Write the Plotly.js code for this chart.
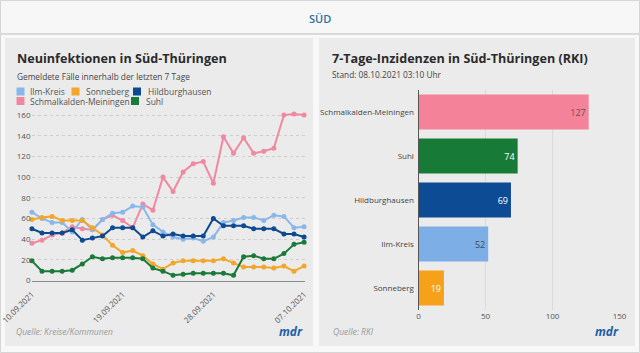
<!DOCTYPE html>
<html>
<head>
<meta charset="utf-8">
<script src="https://cdn.plot.ly/plotly-3.0.1.min.js"></script>
<style>
html,body{margin:0;padding:0;background:#ffffff;}
#chart{width:640px;height:353px;}
</style>
</head>
<body>
<div id="chart"></div>
<script>
// ---------- DATA ----------
const dates = ['2021-09-10','2021-09-11','2021-09-12','2021-09-13','2021-09-14','2021-09-15','2021-09-16',
  '2021-09-17','2021-09-18','2021-09-19','2021-09-20','2021-09-21','2021-09-22','2021-09-23',
  '2021-09-24','2021-09-25','2021-09-26','2021-09-27','2021-09-28','2021-09-29','2021-09-30',
  '2021-10-01','2021-10-02','2021-10-03','2021-10-04','2021-10-05','2021-10-06','2021-10-07'];
const xTickVals = ['2021-09-10','2021-09-19','2021-09-28','2021-10-07'];
const xTickText = ['10.09.2021','19.09.2021','28.09.2021','07.10.2021'];

const seriesNames = ['Ilm-Kreis','Sonneberg','Hildburghausen','Schmalkalden-Meiningen','Suhl'];
const ilmKreis       = [66,60,56,56,47,59,49,59,65,66,72,71,54,47,42,40,41,38,42,56,58,61,61,58,63,62,51,52];
const sonneberg      = [59,61,62,58,58,58,51,44,34,27,29,24,16,11,17,19,19,19,19,21,17,13,13,13,12,14,9,14];
const hildburghausen = [50,46,46,46,49,39,41,43,51,51,51,42,48,43,45,43,43,43,60,53,53,53,50,50,50,45,45,42];
const schmalkalden   = [36,39,44,46,52,50,49,59,63,58,51,74,68,100,86,105,113,115,94,139,123,138,123,125,128,160,161,160];
const suhl           = [19,9,9,9,10,16,23,21,22,22,22,21,12,9,5,6,7,7,7,7,5,23,24,21,21,26,35,37];

const barCategories = ['Schmalkalden-Meiningen','Suhl','Hildburghausen','Ilm-Kreis','Sonneberg'];
const barValues     = [127,74,69,52,19];

// ---------- STYLE ----------
const colors = {
  'Ilm-Kreis':'#8ab7ea',
  'Sonneberg':'#f2a62a',
  'Hildburghausen':'#0e4a8f',
  'Schmalkalden-Meiningen':'#f0899f',
  'Suhl':'#1a7a3a'
};
const barColors = {
  'Ilm-Kreis':'#7dafe6',
  'Sonneberg':'#f5a21a',
  'Hildburghausen':'#0d4b94',
  'Schmalkalden-Meiningen':'#f4839a',
  'Suhl':'#177a37'
};
const barTextColors = {
  'Ilm-Kreis':'#3d4a5a',
  'Sonneberg':'#ffffff',
  'Hildburghausen':'#ffffff',
  'Schmalkalden-Meiningen':'#6a5058',
  'Suhl':'#ffffff'
};
const W = 640, H = 353;
const px = x => x / W;
const py = y => 1 - y / H;
const FONT = 'Open Sans, Noto Sans, sans-serif';

const lineSeries = [ilmKreis, sonneberg, hildburghausen, schmalkalden, suhl];
const traces = [];
[3,0,1,2,4].forEach(i => {
  const name = seriesNames[i];
  traces.push({
    type:'scatter', mode:'lines+markers', name:name,
    x: dates, y: lineSeries[i],
    xaxis:'x', yaxis:'y',
    line:{color:colors[name], width:2},
    marker:{color:colors[name], size:5},
    showlegend:false, cliponaxis:false,
    hoverinfo:'skip'
  });
});

traces.push({
  type:'bar', orientation:'h',
  x: barValues, y: barCategories,
  xaxis:'x2', yaxis:'y2',
  marker:{color: barCategories.map(c => barColors[c])},
  text: barValues.map(v => String(v)),
  textposition:'inside', insidetextanchor:'end',
  textfont:{family:FONT, size:9, color: barCategories.map(c => barTextColors[c])},
  showlegend:false, hoverinfo:'skip'
});

// ---------- SHAPES (panels, header, legend swatches) ----------
const shapes = [
  {type:'rect', xref:'paper', yref:'paper', x0:0, x1:1, y0:py(34), y1:1,
   fillcolor:'#f7f7f7', line:{width:0}, layer:'below'},
  {type:'line', xref:'paper', yref:'paper', x0:0, x1:1, y0:py(34), y1:py(34),
   line:{color:'#cfcfcf', width:1.5}, layer:'below'},
  {type:'rect', xref:'paper', yref:'paper', x0:0, x1:1, y0:0, y1:py(35),
   fillcolor:'#f8f8f8', line:{width:0}, layer:'below'},
  {type:'rect', xref:'paper', yref:'paper', x0:px(5), x1:px(313), y0:py(346), y1:py(38),
   fillcolor:'#ebebeb', line:{width:0}, layer:'below'},
  {type:'rect', xref:'paper', yref:'paper', x0:px(319), x1:px(635), y0:py(346), y1:py(38),
   fillcolor:'#ebebeb', line:{width:0}, layer:'below'},
  {type:'rect', xref:'paper', yref:'paper', x0:px(0.5), x1:px(639.5), y0:py(352.5), y1:py(0.5),
   line:{color:'#d6d6d6', width:1}, layer:'below'}
];

const legendPos = [
  {sx:16.5, sy:91.5, tx:28},
  {sx:71.5, sy:91.5, tx:83.5},
  {sx:133,  sy:91.5, tx:145.5},
  {sx:16.5, sy:101, tx:28},
  {sx:131,  sy:101, tx:143.5}
];
const annotations = [];
seriesNames.forEach((name, i) => {
  const p = legendPos[i];
  shapes.push({type:'rect', xref:'paper', yref:'paper',
    x0:px(p.sx), x1:px(p.sx+8), y0:py(p.sy+4), y1:py(p.sy-4),
    fillcolor:colors[name], line:{width:0}});
  annotations.push({xref:'paper', yref:'paper', x:px(p.tx), y:py(p.sy),
    xanchor:'left', yanchor:'middle', showarrow:false, text:name,
    font:{family:FONT, size:8.5, color:'#555555'}});
});

annotations.push(
  {xref:'paper', yref:'paper', x:0.5, y:py(19), xanchor:'center', yanchor:'middle',
   showarrow:false, text:'SÜD', font:{family:FONT, size:11, color:'#2c6f9f', weight:600}},
  {xref:'paper', yref:'paper', x:px(15), y:py(58), xanchor:'left', yanchor:'middle',
   showarrow:false, text:'Neuinfektionen in Süd-Thüringen', font:{family:FONT, size:12.6, color:'#2b2b2b', weight:700}},
  {xref:'paper', yref:'paper', x:px(15), y:py(76), xanchor:'left', yanchor:'middle',
   showarrow:false, text:'Gemeldete Fälle innerhalb der letzten 7 Tage', font:{family:FONT, size:8.3, color:'#444444'}},
  {xref:'paper', yref:'paper', x:px(330), y:py(59), xanchor:'left', yanchor:'middle',
   showarrow:false, text:'7-Tage-Inzidenzen in Süd-Thüringen (RKI)', font:{family:FONT, size:12.6, color:'#2b2b2b', weight:700}},
  {xref:'paper', yref:'paper', x:px(330), y:py(75), xanchor:'left', yanchor:'middle',
   showarrow:false, text:'Stand: 08.10.2021 03:10 Uhr', font:{family:FONT, size:8.3, color:'#444444'}},
  {xref:'paper', yref:'paper', x:px(14), y:py(331), xanchor:'left', yanchor:'middle',
   showarrow:false, text:'<i>Quelle: Kreise/Kommunen</i>', font:{family:FONT, size:8.5, color:'#9a9a9a'}},
  {xref:'paper', yref:'paper', x:px(331), y:py(331), xanchor:'left', yanchor:'middle',
   showarrow:false, text:'<i>Quelle: RKI</i>', font:{family:FONT, size:8.5, color:'#9a9a9a'}},
  {xref:'paper', yref:'paper', x:px(305), y:py(331), xanchor:'right', yanchor:'middle',
   showarrow:false, text:'<b><i>mdr</i></b>', font:{family:FONT, size:12, color:'#1d5fa6'}},
  {xref:'paper', yref:'paper', x:px(621), y:py(331), xanchor:'right', yanchor:'middle',
   showarrow:false, text:'<b><i>mdr</i></b>', font:{family:FONT, size:12, color:'#1d5fa6'}}
);

const layout = {
  width:W, height:H,
  margin:{l:0, r:0, t:0, b:0},
  paper_bgcolor:'#ffffff', plot_bgcolor:'rgba(0,0,0,0)',
  font:{family:FONT, size:8, color:'#555555'},
  showlegend:false,
  xaxis:{
    domain:[px(31.5), px(304.5)], anchor:'y', type:'date',
    range:['2021-09-09 23:00', '2021-10-07 01:00'],
    tickvals:xTickVals, ticktext:xTickText, tickangle:-45,
    tickfont:{family:FONT, size:8, color:'#555555'},
    ticklabeloverflow:'allow',
    showgrid:false, zeroline:false,
    showline:true, linecolor:'#8a8a8a', linewidth:1,
    ticks:'outside', ticklen:5, tickcolor:'rgba(0,0,0,0)', fixedrange:true
  },
  yaxis:{
    domain:[py(280.5), py(280.5 - 165*1.034)], anchor:'x',
    range:[0,165], tickvals:[0,20,40,60,80,100,120,140,160],
    tickfont:{family:FONT, size:8, color:'#555555'},
    showgrid:true, gridcolor:'#cdcdcd', griddash:'dot', gridwidth:1,
    zeroline:false, showline:false, ticks:'', fixedrange:true
  },
  xaxis2:{
    domain:[px(418.5), px(619.5)], anchor:'y2',
    range:[0,150], tickvals:[0,50,100,150],
    tickfont:{family:FONT, size:8, color:'#555555'},
    showgrid:true, gridcolor:'#dadada', gridwidth:1,
    zeroline:false, showline:false, ticks:'', fixedrange:true
  },
  yaxis2:{
    domain:[py(310), py(90)], anchor:'x2',
    type:'category', autorange:'reversed',
    tickfont:{family:FONT, size:8, color:'#444444'},
    showgrid:false, zeroline:false,
    showline:true, linecolor:'#555555', linewidth:1,
    ticks:'', ticklabelstandoff:2, fixedrange:true
  },
  bargap:0.2,
  shapes:shapes,
  annotations:annotations
};

Plotly.newPlot('chart', traces, layout, {displayModeBar:false, staticPlot:true});
</script>
</body>
</html>
